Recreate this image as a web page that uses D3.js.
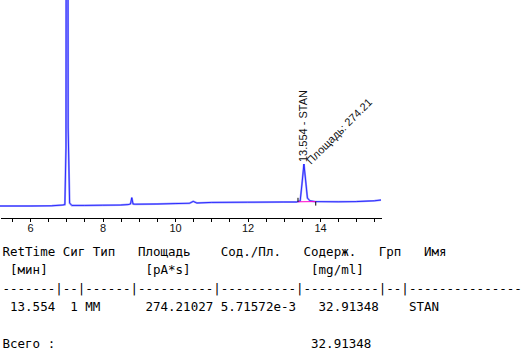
<!DOCTYPE html>
<html>
<head>
<meta charset="utf-8">
<script src="https://cdn.jsdelivr.net/npm/d3@7"></script>
<style>
  body { margin: 0; background: #fff; }
  svg { display: block; }
  .axis path, .axis line { stroke: #000; shape-rendering: crispEdges; }
  .axis text { font-family: "Liberation Sans", Arial, sans-serif; font-size: 11px; fill: #111; }
  .note { font-family: "Liberation Sans", Arial, sans-serif; font-size: 11px; fill: #111; }
  .report { font-family: "DejaVu Sans Mono", monospace; font-size: 12.5px; fill: #000; white-space: pre; }
</style>
</head>
<body>
<div id="chart"></div>
<script>
// Chromatogram trace (time in min, signal in pA)
var times = [5.17, 6.0, 6.6, 6.9, 6.96, 6.99, 7.02, 7.05, 7.09, 7.15, 7.5, 8.0, 8.5, 8.7, 8.77,
  8.806, 8.84, 8.9, 9.5, 10.0, 10.4, 10.5, 10.6, 11.0, 12.0, 13.0, 13.35, 13.45, 13.5,
  13.554, 13.6, 13.65, 13.72, 13.85, 14.5, 15.0, 15.5, 15.68];
var signal = [1.0, 1.0, 1.1, 1.5, 1.7, 30, 600, 40, 2.5, 1.3, 1.3, 1.4, 1.5, 1.7, 2.0,
  5.2, 2.0, 1.9, 2.0, 2.2, 2.4, 3.3, 2.5, 2.8, 2.9, 3.0, 3.0, 3.5, 12,
  22, 14, 5, 3.6, 3.2, 3.1, 3.2, 3.6, 4.0];

// Integrated peak
var peakRetTime = 13.554;
var peakName = 'STAN';
var peakArea = 274.21;
var baselineStart = [13.39, 3.1];
var baselineEnd = [13.88, 3.2];

// Axis labels
var tickLabels = [6, 8, 10, 12, 14];

// Report table text
var reportLines = [
  'RetTime Сиг Тип   Площадь    Сод./Пл.   Содерж.   Грп   Имя',
  ' [мин]             [pA*s]                [mg/ml]',
  '-------|--|------|----------|----------|----------|--|---------------',
  ' 13.554  1 MM      274.21027 5.71572e-3   32.91348    STAN',
  '',
  'Всего :                                  32.91348'
];

var width = 527;
var height = 355;

var svg = d3.select('#chart')
  .append('svg')
  .attr('width', width)
  .attr('height', height);

var xScale = d3.scaleLinear()
  .domain([5.17, 15.68])
  .range([0, 381]);

var yScale = d3.scaleLinear()
  .domain([0, 104])
  .range([208, 0]);

/*
 * Axis
 */
var xAxis = d3.axisBottom(xScale)
  .tickValues(d3.range(5.5, 15.6, 0.5))
  .tickSize(4)
  .tickSizeOuter(0)
  .tickPadding(2)
  .tickFormat(function(d) {
    return tickLabels.indexOf(d) > -1 ? d : '';
  });

svg.append('g')
  .attr('class', 'axis')
  .attr('transform', 'translate(0,218)')
  .call(xAxis);

/*
 * Trace
 */
var plot = svg.append('g');

plot.append('clipPath')
  .attr('id', 'clip')
  .append('rect')
  .attr('x', 0).attr('y', 0)
  .attr('width', 382).attr('height', 216);

var points = times.map(function(t, i) { return [t, signal[i]]; });

var line = d3.line()
  .x(function(d) { return xScale(d[0]); })
  .y(function(d) { return yScale(d[1]); });

plot.append('path')
  .attr('clip-path', 'url(#clip)')
  .attr('d', line(points))
  .attr('fill', 'none')
  .attr('stroke', '#9c9cff')
  .attr('stroke-width', 2);

plot.append('path')
  .attr('clip-path', 'url(#clip)')
  .attr('d', line(points))
  .attr('fill', 'none')
  .attr('stroke', '#0000ff')
  .attr('stroke-opacity', 0.8)
  .attr('stroke-width', 0.9);

// peak baseline + start/end markers
plot.append('line')
  .attr('x1', xScale(baselineStart[0]))
  .attr('y1', yScale(baselineStart[1]))
  .attr('x2', xScale(baselineEnd[0]))
  .attr('y2', yScale(baselineEnd[1]))
  .attr('stroke', '#ff00cc')
  .attr('stroke-width', 1);

plot.append('line')
  .attr('x1', xScale(baselineStart[0])).attr('x2', xScale(baselineStart[0]))
  .attr('y1', yScale(baselineStart[1]) - 4).attr('y2', yScale(baselineStart[1]))
  .attr('stroke', '#000');

plot.append('line')
  .attr('x1', xScale(baselineEnd[0])).attr('x2', xScale(baselineEnd[0]))
  .attr('y1', yScale(baselineEnd[1])).attr('y2', yScale(baselineEnd[1]) + 4)
  .attr('stroke', '#000');

/*
 * Peak labels
 */
var peakX = xScale(peakRetTime);
var peakY = yScale(22);

svg.append('text')
  .attr('class', 'note')
  .attr('transform', 'translate(' + (peakX + 3.5) + ',' + (peakY - 2) + ') rotate(-90)')
  .text(peakRetTime.toFixed(3) + ' - ' + peakName);

svg.append('text')
  .attr('class', 'note')
  .attr('transform', 'translate(' + (peakX + 7) + ',' + (peakY + 1) + ') rotate(-45)')
  .text('Площадь: ' + peakArea.toFixed(2));

/*
 * Report table
 */
svg.append('g')
  .selectAll('text')
  .data(reportLines)
  .enter()
  .append('text')
  .attr('class', 'report')
  .attr('x', 2.5)
  .attr('y', function(d, i) { return 256 + i * 18.3; })
  .text(function(d) { return d; });
</script>
</body>
</html>
